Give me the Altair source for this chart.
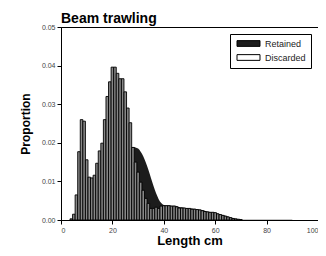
import altair as alt
import pandas as pd

lengths = list(range(4, 91))

discarded = [
    0.0003, 0.0015, 0.0065, 0.0177, 0.0260, 0.0256, 0.0156, 0.0111, 0.0109, 0.0116,  # 4-13
    0.0147, 0.0179, 0.0199, 0.0260, 0.0320, 0.0358, 0.0396, 0.0396, 0.0380, 0.0366,  # 14-23
    0.0366, 0.0332, 0.0290, 0.0252, 0.0188, 0.0150, 0.0124, 0.0098, 0.0077, 0.0056,  # 24-33
    0.0043, 0.0030, 0.0030, 0.0033, 0.0030, 0.0036, 0.0037, 0.0037, 0.0037, 0.0036,  # 34-43
    0.0036, 0.0034, 0.0031, 0.0031, 0.0031, 0.0030, 0.0030, 0.0028, 0.0028, 0.0027,  # 44-53
    0.0026, 0.0024, 0.0022, 0.0021, 0.0020, 0.0020, 0.0019, 0.0016, 0.0014, 0.0012,  # 54-63
    0.0010, 0.0008, 0.0006, 0.0004, 0.0003, 0.0002, 0.0001, 0.0, 0.0, 0.0,           # 64-73
    0.0, 0.0, 0.0, 0.0, 0.0, 0.0, 0.0, 0.0, 0.0, 0.0,                                 # 74-83
    0.0, 0.0, 0.0, 0.0, 0.0, 0.0, 0.0,                                                # 84-90
]

retained = [
    0.0, 0.0, 0.0, 0.0, 0.0, 0.0, 0.0, 0.0, 0.0, 0.0003,                              # 4-13
    0.0008, 0.0015, 0.0025, 0.0040, 0.0055, 0.0075, 0.0095, 0.0115, 0.0135, 0.0150,  # 14-23
    0.0163, 0.0173, 0.0180, 0.0186, 0.0189, 0.0188, 0.0185, 0.0177, 0.0165, 0.0149,  # 24-33
    0.0130, 0.0109, 0.0088, 0.0069, 0.0054, 0.0044, 0.0039, 0.0038, 0.0038, 0.0037,  # 34-43
    0.0037, 0.0036, 0.0034, 0.0033, 0.0032, 0.0031, 0.0030, 0.0030, 0.0029, 0.0028,  # 44-53
    0.0027, 0.0026, 0.0024, 0.0022, 0.0021, 0.0020, 0.0019, 0.0017, 0.0015, 0.0013,  # 54-63
    0.0011, 0.0009, 0.0007, 0.0005, 0.0003, 0.0002, 0.0001, 0.00005, 0.00005, 0.00005,  # 64-73
    0.00005, 0.00005, 0.00005, 0.00005, 0.00005, 0.00005, 0.00005, 0.00005, 0.00005, 0.00005,  # 74-83
    0.00005, 0.00005, 0.00005, 0.00005, 0.00005, 0.00005, 0.00005,                    # 84-90
]

series_names = ["Retained", "Discarded"]
legend_colors = ["#1c1c1c", "#ffffff"]
bar_fill = "#878787"

df_d = pd.DataFrame({"length": lengths, "value": discarded, "series": "Discarded"})
df_d["x0"] = df_d["length"] - 0.5
df_d["x1"] = df_d["length"] + 0.5
df_d["base"] = 0.0
df_d = df_d[df_d["value"] > 0]
df_r = pd.DataFrame({"length": lengths, "value": retained, "series": "Retained"})

FONT = "Liberation Sans"
W, H = 257, 193

xscale = alt.Scale(domain=[0, 100], nice=False, zero=False)
yscale = alt.Scale(domain=[0, 0.05], nice=False)
fill = alt.Fill(
    "series:N",
    scale=alt.Scale(domain=series_names, range=legend_colors),
    legend=alt.Legend(
        title=None,
        orient="top-right",
        offset=7,
        padding=5,
        strokeColor="black",
        fillColor="white",
        symbolType="M-4,-1H4V1H-4Z",
        symbolSize=33,
        symbolStrokeColor="black",
        symbolStrokeWidth=1,
        symbolOpacity=1,
        symbolOffset=9,
        labelOffset=12,
        labelFont=FONT,
        labelFontSize=9,
        labelColor="#222",
        rowPadding=3,
    ),
)

x_axis = alt.Axis(
    values=[0, 20, 40, 60, 80, 100], title="Length cm", grid=False,
    labelFontSize=7, labelColor="#444", labelFont=FONT, tickSize=4,
    labelOverlap=False,
    domainColor="black", tickColor="black",
    titleFont=FONT, titleFontSize=13, titleFontWeight="bold",
    titleX=W / 2, titleY=20, titleBaseline="middle",
)
y_axis = alt.Axis(
    values=[0, 0.01, 0.02, 0.03, 0.04, 0.05], format=".2f", title="Proportion", grid=False,
    labelFontSize=7, labelColor="#444", labelFont=FONT, tickSize=4,
    labelOverlap=False,
    domainColor="black", tickColor="black",
    titleFont=FONT, titleFontSize=12, titleFontWeight="bold",
    titleX=-36, titleY=H / 2, titleAngle=-90, titleBaseline="middle", titleAlign="center",
)

area = alt.Chart(df_r).mark_area(interpolate="monotone").encode(
    x=alt.X("length:Q", scale=xscale, axis=x_axis),
    y=alt.Y("value:Q", scale=yscale, axis=y_axis),
    fill=fill,
)

bars = alt.Chart(df_d).mark_bar(stroke="black", strokeWidth=0.9, fill=bar_fill).encode(
    x=alt.X("x0:Q", scale=xscale, axis=x_axis),
    x2="x1:Q",
    y=alt.Y("value:Q", scale=yscale, axis=y_axis),
    y2="base:Q",
)

chart = alt.layer(area, bars).properties(
    width=W,
    height=H,
    autosize=alt.AutoSizeParams(type="none"),
    padding={"left": 53, "top": 19, "right": 0, "bottom": 28},
    title=alt.Title("Beam trawling", anchor="start", frame="group", font=FONT,
                    fontSize=14, fontWeight="bold", offset=0, dy=3, color="black"),
).configure_view(stroke="black", strokeWidth=1)

chart.save("out.html", embed_options={"renderer": "svg", "actions": False})
